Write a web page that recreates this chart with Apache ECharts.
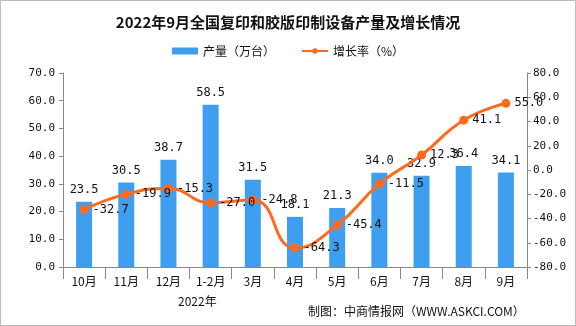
<!DOCTYPE html>
<html><head><meta charset="utf-8">
<script src="https://cdn.jsdelivr.net/npm/echarts@6/dist/echarts.min.js"></script>
<style>html,body{margin:0;padding:0;background:#fff}#c{width:576px;height:326px}</style>
</head><body><div id="c"></div>
<script>
const categories = ['10月','11月','12月','1-2月','3月','4月','5月','6月','7月','8月','9月'];
const output = [23.5, 30.5, 38.7, 58.5, 31.5, 18.1, 21.3, 34.0, 32.9, 36.4, 34.1];
const growth = [-32.7, -19.9, -15.3, -27.0, -24.8, -64.3, -45.4, -11.5, 12.3, 41.1, 55.0];
const leftTicks = {min: 0, max: 70, interval: 10};
const rightTicks = {min: -80, max: 80, interval: 20};

const chart = echarts.init(document.getElementById('c'));
const mono = "'DejaVu Sans Mono', monospace";
const cjk = "'Noto Sans CJK SC', sans-serif";
chart.setOption({
  animation: false,
  title: {text: '2022年9月全国复印和胶版印制设备产量及增长情况', left: 'center', top: 10,
    textStyle: {fontSize: 15, fontWeight: 'bold', color: '#111', fontFamily: cjk}},
  legend: {top: 40, left: 'center', itemGap: 26, itemWidth: 26, itemHeight: 7,
    textStyle: {fontSize: 12, color: '#111', fontFamily: cjk},
    data: [{name: '产量（万台）', icon: 'rect'}, {name: '增长率（%）'}]},
  grid: {left: 63, right: 49, top: 73, bottom: 59},
  xAxis: {type: 'category', data: categories,
    axisLine: {lineStyle: {color: '#888'}},
    axisTick: {show: true, length: 12, lineStyle: {color: '#888'}},
    axisLabel: {color: '#111', fontSize: 12, fontFamily: cjk, margin: 8}},
  yAxis: [
    {type: 'value', min: leftTicks.min, max: leftTicks.max, interval: leftTicks.interval,
     splitLine: {show: false},
     axisLine: {show: true, lineStyle: {color: '#888'}},
     axisTick: {show: true, length: 4, lineStyle: {color: '#888'}},
     axisLabel: {formatter: v => v.toFixed(1), color: '#111', fontSize: 11, fontFamily: mono, margin: 8}},
    {type: 'value', min: rightTicks.min, max: rightTicks.max, interval: rightTicks.interval,
     splitLine: {show: false},
     axisLine: {show: true, lineStyle: {color: '#888'}},
     axisTick: {show: true, length: 4, lineStyle: {color: '#888'}},
     axisLabel: {formatter: v => v.toFixed(1), color: '#111', fontSize: 11, fontFamily: mono, margin: 6}}
  ],
  series: [
    {name: '产量（万台）', type: 'bar', data: output, barWidth: 16, yAxisIndex: 0,
     itemStyle: {color: '#3e9ff0'},
     label: {show: true, position: 'top', distance: 6, formatter: p => p.value.toFixed(1),
       color: '#111', fontSize: 12, fontFamily: mono}},
    {name: '增长率（%）', type: 'line', data: growth, yAxisIndex: 1, smooth: true,
     symbol: 'circle', symbolSize: 9,
     lineStyle: {color: '#ff6a1f', width: 3}, itemStyle: {color: '#ff6a1f'},
     label: {show: true, position: 'right', distance: 4, formatter: p => p.value.toFixed(1),
       color: '#111', fontSize: 12, fontFamily: mono}}
  ],
  graphic: [
    {type: 'text', left: 178, top: 295, style: {text: '2022年', fontSize: 12, fontFamily: cjk, fill: '#111'}},
    {type: 'text', left: 308, top: 305, style: {text: '制图：中商情报网（WWW.ASKCI.COM）', fontSize: 12, fontFamily: cjk, fill: '#111'}},
    {type: 'rect', shape: {x: 0.5, y: 0.5, width: 575, height: 325}, style: {fill: 'none', stroke: '#bbb', lineWidth: 1}, silent: true}
  ]
});
</script></body></html>
